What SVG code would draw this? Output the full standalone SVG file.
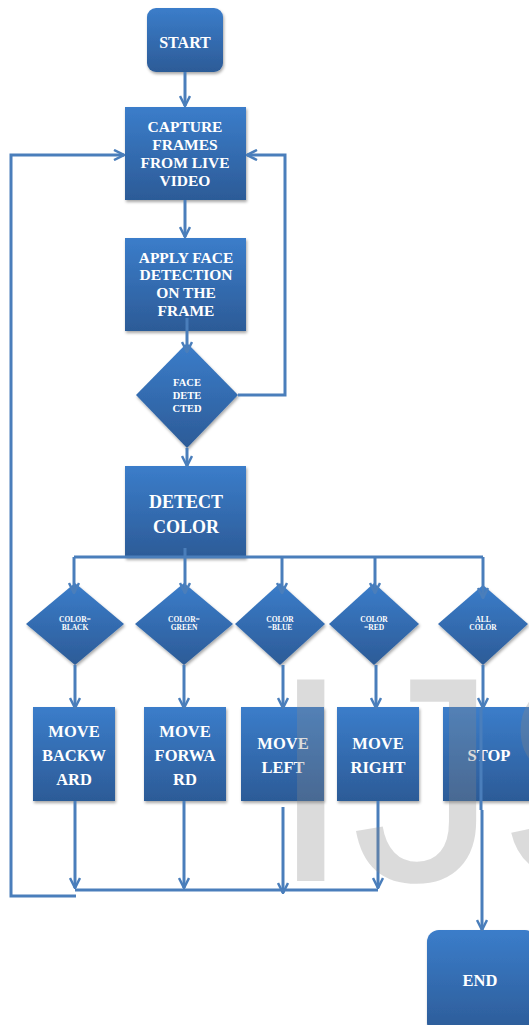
<svg xmlns="http://www.w3.org/2000/svg" width="529" height="1025" viewBox="0 0 529 1025">
<defs>
<linearGradient id="g" x1="0" y1="0" x2="0" y2="1">
<stop offset="0" stop-color="#3b7dca"/>
<stop offset="1" stop-color="#2c5b97"/>
</linearGradient>
<filter id="sh" x="-10%" y="-10%" width="130%" height="130%">
<feDropShadow dx="1" dy="2" stdDeviation="1.5" flood-color="#000" flood-opacity="0.35"/>
</filter>
<marker id="ah" viewBox="0 0 12 12" refX="11" refY="6" markerWidth="12" markerHeight="12" markerUnits="userSpaceOnUse" orient="auto">
<path d="M1,1 L11,6 L1,11" fill="none" stroke="#4a7ebb" stroke-width="2.5" stroke-linejoin="miter"/>
</marker>
<style>
.n{fill:url(#g);filter:url(#sh)}
.t{font-family:"Liberation Serif","Times New Roman",serif;font-weight:bold;fill:#fff;text-anchor:middle}
.c{fill:none;stroke:#4a7ebb;stroke-width:3}
.a{marker-end:url(#ah)}
</style>
</defs>
<g id="start"><rect class="n" x="147" y="8" width="76" height="64" rx="9"/><text class="t" x="185" y="48" font-size="16">START</text></g>
<g id="capture"><rect class="n" x="125" y="107" width="121" height="93"/>
<text class="t" font-size="15.5"><tspan x="185" y="132">CAPTURE</tspan><tspan x="185" y="150">FRAMES</tspan><tspan x="185" y="168">FROM LIVE</tspan><tspan x="185" y="186">VIDEO</tspan></text></g>
<g id="apply"><rect class="n" x="125" y="238" width="121" height="93"/>
<text class="t" font-size="15.5"><tspan x="186" y="263">APPLY FACE</tspan><tspan x="186" y="280">DETECTION</tspan><tspan x="186" y="298">ON THE</tspan><tspan x="186" y="316">FRAME</tspan></text></g>
<g id="face"><path class="n" d="M187,343 L238,395 L187,448 L136,395 Z"/>
<text class="t" font-size="10.5"><tspan x="187" y="386">FACE</tspan><tspan x="187" y="399">DETE</tspan><tspan x="187" y="412">CTED</tspan></text></g>
<g id="detect"><rect class="n" x="125" y="466" width="121" height="92"/>
<text class="t" font-size="18"><tspan x="186" y="508">DETECT</tspan><tspan x="186" y="533">COLOR</tspan></text></g>
<g id="d1"><path class="n" d="M75,583 L124,624 L75,665 L26,624 Z"/>
<text class="t" font-size="7.5"><tspan x="75" y="622">COLOR=</tspan><tspan x="75" y="630">BLACK</tspan></text></g>
<g id="d2"><path class="n" d="M184,583 L233,624 L184,665 L135,624 Z"/>
<text class="t" font-size="7.5"><tspan x="184" y="622">COLOR=</tspan><tspan x="184" y="630">GREEN</tspan></text></g>
<g id="d3"><path class="n" d="M280,583 L325,624 L280,665 L235,624 Z"/>
<text class="t" font-size="7.5"><tspan x="280" y="622">COLOR</tspan><tspan x="280" y="630">=BLUE</tspan></text></g>
<g id="d4"><path class="n" d="M374,583 L419,624 L374,665 L329,624 Z"/>
<text class="t" font-size="7.5"><tspan x="374" y="622">COLOR</tspan><tspan x="374" y="630">=RED</tspan></text></g>
<g id="d5"><path class="n" d="M483,585 L528,624 L483,665 L438,624 Z"/>
<text class="t" font-size="7.5"><tspan x="483" y="622">ALL</tspan><tspan x="483" y="630">COLOR</tspan></text></g>
<g id="back"><rect class="n" x="33" y="707" width="82" height="94"/>
<text class="t" font-size="16.5"><tspan x="74" y="737">MOVE</tspan><tspan x="74" y="761">BACKW</tspan><tspan x="74" y="785">ARD</tspan></text></g>
<g id="fwd"><rect class="n" x="144" y="707" width="82" height="94"/>
<text class="t" font-size="16.5"><tspan x="185" y="737">MOVE</tspan><tspan x="185" y="761">FORWA</tspan><tspan x="185" y="785">RD</tspan></text></g>
<g id="left"><rect class="n" x="241" y="707" width="83" height="94"/>
<text class="t" font-size="16.5"><tspan x="283" y="749">MOVE</tspan><tspan x="283" y="773">LEFT</tspan></text></g>
<g id="right"><rect class="n" x="337" y="707" width="82" height="94"/>
<text class="t" font-size="16.5"><tspan x="378" y="749">MOVE</tspan><tspan x="378" y="773">RIGHT</tspan></text></g>
<g id="stop"><rect class="n" x="443" y="707" width="92" height="94"/>
<text class="t" font-size="16.5" x="489" y="761">STOP</text></g>
<g id="end"><rect class="n" x="427" y="930" width="110" height="105" rx="12"/>
<text class="t" font-size="16.5" x="480" y="986">END</text></g>
<g id="connectors">
<path class="c a" d="M185,72 V106"/>
<path class="c a" d="M185,200 V237"/>
<path class="c a" d="M187,318 V352"/>
<path class="c a" d="M238,395 H285 V155 H247"/>
<path class="c a" d="M76,896 H11 V155 H124"/>
<path class="c a" d="M187,448 V466"/>
<path class="c" d="M185,548 V557"/>
<path class="c" d="M74,557 H483"/>
<path class="c a" d="M74,557 V593"/>
<path class="c a" d="M185,557 V593"/>
<path class="c a" d="M282,557 V593"/>
<path class="c a" d="M375,557 V593"/>
<path class="c a" d="M483,557 V598"/>
<path class="c a" d="M75,665 V708"/>
<path class="c a" d="M184,665 V708"/>
<path class="c a" d="M283,665 V708"/>
<path class="c a" d="M376,665 V708"/>
<path class="c a" d="M483,665 V708"/>
<path class="c a" d="M75,801 V888"/>
<path class="c a" d="M184,801 V888"/>
<path class="c a" d="M283,807 V893"/>
<path class="c a" d="M378,801 V888"/>
<path class="c" d="M75,890 H378"/>
<path class="c" d="M481,708 V810" stroke-width="2"/>
<path class="c a" d="M482,810 V930"/>
</g>
<text x="270" y="881" font-family="Liberation Sans, Arial, sans-serif" font-size="293" fill="#8a8a8a" opacity="0.3">IJS</text>
</svg>
